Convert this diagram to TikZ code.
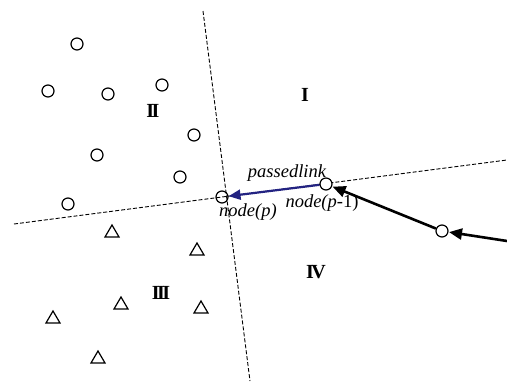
\documentclass[tikz,border=0pt]{standalone}
\usepackage{fontspec}
\setmainfont{Liberation Serif}
\usetikzlibrary{arrows.meta}
\begin{document}
\begin{tikzpicture}[x=1pt,y=-1pt,
  pt/.style={circle,draw,line width=1.2pt,minimum size=12pt,inner sep=0pt,fill=white},
  tri/.pic={\draw[line width=1.2pt,line join=miter] (-7,6)--(0,-6)--(7,6)--cycle;},
  region/.style={font=\bfseries\fontsize{20}{20}\selectfont},
  lbl/.style={font=\itshape\fontsize{18.5}{18.5}\selectfont,inner sep=0pt},
  divider/.style={line width=0.9pt,dash pattern=on 4pt off 2pt},
  bigarrow/.style={line width=2.6pt,-{Triangle[length=13pt,width=11pt]},shorten >=0.5pt},
  bluearrow/.style={line width=2.2pt,draw={rgb,255:red,35;green,35;blue,130},-{Triangle[length=12pt,width=10pt]}}]
\useasboundingbox (0,0) rectangle (507,381);
% dividers
\coordinate (vt) at (203,11);
\coordinate (vb) at (250,381);
\coordinate (hl) at (14,224);
\coordinate (hr) at (507,160);
\draw[divider] (vt) -- (vb);
\draw[divider] (hl) -- (hr);
% circles
\node[pt] (c1) at (77,44) {};
\node[pt] (c2) at (48,91) {};
\node[pt] (c3) at (108,94) {};
\node[pt] (c4) at (162,85) {};
\node[pt] (c5) at (194,135) {};
\node[pt] (c6) at (97,155) {};
\node[pt] (c7) at (180,177) {};
\node[pt] (c8) at (68,204) {};
% triangles
\pic at (112,231) {tri};
\pic at (197,249) {tri};
\pic at (121,303) {tri};
\pic at (201,307) {tri};
\pic at (53,317) {tri};
\pic at (98,357) {tri};
% region labels
\node[region] (r1) at (305,95) {I};
\node[region] (r2) at (153,111) {I\kern-2.5ptI};
\node[region] (r3) at (161,293) {I\kern-2.5ptI\kern-2.5ptI};
\node[region] (r4) at (316,272) {I\kern-2.5ptV};
% path nodes
\node[pt,fill=none] (p) at (222,197) {};
\node[pt] (pm) at (326,184) {};
\node[pt] (q) at (442,231) {};
\coordinate (e) at (507,241);
\draw[bigarrow] (e) -- (q);
\draw[bigarrow] (q) -- (pm);
\draw[bluearrow] (pm) -- (p);
% texts
\node[lbl] (t1) at (287,173) {passedlink};
\node[lbl] (t2) at (248,212) {node(p)};
\node[lbl] (t3) at (322,203) {node(\textit{p}\textup{-1)}};
\end{tikzpicture}
\end{document}
